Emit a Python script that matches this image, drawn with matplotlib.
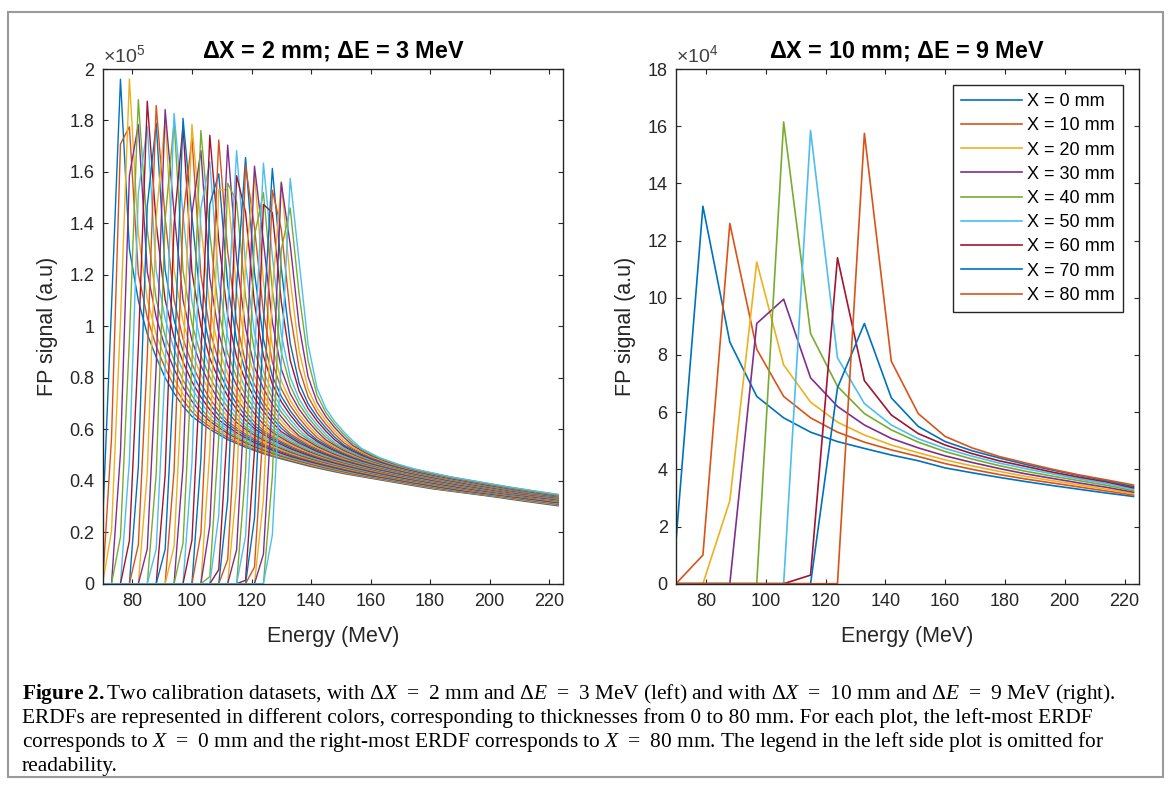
import matplotlib
matplotlib.use('Agg')
import matplotlib.pyplot as plt
import numpy as np
from matplotlib.patches import Rectangle

plt.rcParams['font.family'] = ['Liberation Sans', 'DejaVu Sans']
plt.rcParams['mathtext.fontset'] = 'custom'
plt.rcParams['mathtext.rm'] = 'Liberation Serif'
plt.rcParams['mathtext.it'] = 'Liberation Serif:italic'
plt.rcParams['mathtext.bf'] = 'Liberation Serif:bold'

W, H = 1171, 787
MATLAB_COLORS = ['#0072BD', '#D95319', '#EDB120', '#7E2F8E',
                 '#77AC30', '#4DBEEE', '#A2142F']

# ---------------- right panel: dX = 10 mm, dE = 9 MeV (signal x 1e4)
energy_9mev = [70, 79, 88, 97, 106, 115, 124, 133, 142, 151, 160, 169,
               178, 187, 196, 205, 214, 223]
fp_x00 = [1.5, 13.2, 8.45, 6.55, 5.8, 5.3, 4.97, 4.73, 4.5, 4.3, 4.05, 3.88,
          3.72, 3.57, 3.43, 3.3, 3.17, 3.05]
fp_x10 = [0, 1.0, 12.6, 8.2, 6.55, 5.8, 5.3, 4.95, 4.68, 4.45, 4.2, 4.0,
          3.82, 3.66, 3.52, 3.38, 3.24, 3.1]
fp_x20 = [0, 0, 2.9, 11.25, 7.65, 6.35, 5.65, 5.2, 4.85, 4.58, 4.33, 4.12,
          3.93, 3.75, 3.6, 3.45, 3.3, 3.15]
fp_x30 = [0, 0, 0, 9.1, 9.95, 7.2, 6.2, 5.55, 5.08, 4.75, 4.47, 4.24,
          4.03, 3.84, 3.68, 3.52, 3.37, 3.2]
fp_x40 = [0, 0, 0, 0, 16.15, 8.75, 6.9, 5.95, 5.38, 4.95, 4.62, 4.36,
          4.13, 3.93, 3.76, 3.6, 3.44, 3.25]
fp_x50 = [0, 0, 0, 0, 0, 15.85, 7.9, 6.3, 5.55, 5.07, 4.73, 4.46,
          4.22, 4.02, 3.84, 3.66, 3.5, 3.3]
fp_x60 = [0, 0, 0, 0, 0, 0.3, 11.4, 7.1, 5.9, 5.25, 4.85, 4.55,
          4.3, 4.1, 3.9, 3.72, 3.56, 3.35]
fp_x70 = [0, 0, 0, 0, 0, 0, 6.85, 9.1, 6.5, 5.5, 4.97, 4.65,
          4.4, 4.17, 3.97, 3.78, 3.6, 3.4]
fp_x80 = [0, 0, 0, 0, 0, 0, 0, 15.75, 7.78, 5.95, 5.15, 4.75,
          4.45, 4.22, 4.0, 3.8, 3.63, 3.45]
right_labels = ['X = 0 mm', 'X = 10 mm', 'X = 20 mm', 'X = 30 mm', 'X = 40 mm',
                'X = 50 mm', 'X = 60 mm', 'X = 70 mm', 'X = 80 mm']

# ---------------- left panel: dX = 2 mm, dE = 3 MeV (signal x 1e5)
energy_3mev = list(range(70, 224, 3))
# peak position / height of each ERDF, X = 0, 2, ..., 80 mm
left_peak_energy = [76.0, 77.6, 79.2, 80.8, 82.3, 83.9, 85.4, 87.0, 88.5, 90.1,
                    91.6, 93.1, 94.6, 96.1, 97.6, 99.0, 100.5, 101.9, 103.4, 104.8,
                    106.3, 107.7, 109.1, 110.5, 111.9, 113.3, 114.7, 116.1, 117.4,
                    118.8, 120.1, 121.5, 122.8, 124.1, 125.4, 126.7, 128.0, 129.3,
                    130.6, 131.8, 133.0]
left_peak_signal = [1.96, 1.97, 1.975, 1.93, 1.90, 1.90, 1.90, 1.89, 1.89, 1.885,
                    1.88, 1.875, 1.865, 1.855, 1.845, 1.83, 1.815, 1.80, 1.785,
                    1.775, 1.76, 1.745, 1.73, 1.72, 1.71, 1.705, 1.70, 1.695, 1.69,
                    1.675, 1.66, 1.65, 1.645, 1.64, 1.635, 1.63, 1.615, 1.60, 1.59,
                    1.58, 1.575]
# shape around the peak (fraction of peak) vs offset from peak, MeV
rise_offset = [-7.5, -6.0, -4.5, -3.0, -1.5, -0.75]
rise_fraction = [0.0, 0.12, 0.3, 0.55, 0.89, 0.975]
top_offset = [0.75, 1.5]
top_fraction = [0.975, 0.89]
# falling edge vs offset from peak: first (X = 0) and last (X = 80) ERDF
fall_offset = [3, 6, 9, 12, 15, 18, 21, 24, 30, 36, 42, 48, 54, 64, 74, 84,
               94, 104, 114, 124, 136, 150]
fall_first = [1.3, 1.1, 0.97, 0.88, 0.80, 0.74, 0.69, 0.65, 0.60, 0.56, 0.53,
              0.505, 0.485, 0.455, 0.43, 0.41, 0.39, 0.37, 0.355, 0.34, 0.32, 0.298]
fall_last = [1.25, 0.93, 0.76, 0.68, 0.63, 0.59, 0.555, 0.525, 0.49, 0.465, 0.445,
             0.43, 0.415, 0.395, 0.375, 0.357, 0.34, 0.33, 0.32, 0.31, 0.30, 0.29]

caption_lines = [
    r"$\mathbf{Figure\ 2.}$Two calibration datasets, with $\Delta X\;\,=\;\,2$ mm and "
    r"$\Delta E\;\,=\;\,3$ MeV (left) and with $\Delta X\;\,=\;\,10$ mm and "
    r"$\Delta E\;\,=\;\,9$ MeV (right).",
    "ERDFs are represented in different colors, corresponding to thicknesses "
    "from 0 to 80 mm. For each plot, the left-most ERDF",
    r"corresponds to $X\;\,=\;\,0$ mm and the right-most ERDF corresponds to "
    r"$X\;\,=\;\,80$ mm. The legend in the left side plot is omitted for",
    "readability.",
]


def erdf_left(k):
    n = len(left_peak_energy) - 1
    w = k / n
    h = left_peak_signal[k]
    d = np.array(energy_3mev) - left_peak_energy[k]
    xp = np.concatenate([rise_offset, [0.0], top_offset, fall_offset])
    fp = np.concatenate([h * np.array(rise_fraction), [h], h * np.array(top_fraction),
                         (1 - w) * np.array(fall_first) + w * np.array(fall_last)])
    return np.interp(d, xp, fp, left=0.0)


def style_axes(ax, yticks, ylim, exponent, title, ylabel_x):
    ax.set_xlim(70, 224.7)
    ax.set_ylim(*ylim)
    ax.set_xticks(range(80, 221, 20))
    ax.set_yticks(yticks)
    ax.set_yticklabels([f'{t:g}' for t in yticks])
    ax.tick_params(direction='in', length=3.4, width=0.8, top=True, right=True,
                   labelsize=13, colors='#262626')
    ax.tick_params(axis='x', pad=7)
    ax.tick_params(axis='y', pad=6)
    for sp in ax.spines.values():
        sp.set_color('#262626')
        sp.set_linewidth(1.0)
    ax.text(0.5, 1.022, title, transform=ax.transAxes, ha='center', va='baseline',
            fontsize=16.8, fontweight='bold', color='black')
    ax.text(0.0, 1.013, r'$\mathregular{\times10^{%d}}$' % exponent,
            transform=ax.transAxes, ha='left', va='baseline', fontsize=14,
            color='#404040')
    ax.text(0.5, -0.103, 'Energy (MeV)', transform=ax.transAxes, ha='center',
            va='center', fontsize=15.5, color='#262626')
    ax.text(ylabel_x, 0.5, 'FP signal (a.u)', transform=ax.transAxes, ha='center',
            va='center', rotation=90, fontsize=15.5, color='#262626')


fig = plt.figure(figsize=(W / 100, H / 100), dpi=100)

ax1 = fig.add_axes([102.6 / W, 1 - 583.7 / H, 460.7 / W, 514.7 / H])
for k in range(len(left_peak_energy)):
    ax1.plot(energy_3mev, erdf_left(k), color=MATLAB_COLORS[k % 7], lw=1.0)
style_axes(ax1, np.round(np.arange(0, 2.01, 0.2), 1), (0, 2), 5,
           r'$\mathregular{\Delta}$X = 2 mm; $\mathregular{\Delta}$E = 3 MeV', -0.12)

ax2 = fig.add_axes([676.0 / W, 1 - 583.7 / H, 462.6 / W, 514.7 / H])
right_series = [fp_x00, fp_x10, fp_x20, fp_x30, fp_x40, fp_x50, fp_x60, fp_x70, fp_x80]
for i, (vals, lab) in enumerate(zip(right_series, right_labels)):
    ax2.plot(energy_9mev, vals, color=MATLAB_COLORS[i % 7], lw=1.2, label=lab)
style_axes(ax2, list(range(0, 19, 2)), (0, 18), 4,
           r'$\mathregular{\Delta}$X = 10 mm; $\mathregular{\Delta}$E = 9 MeV', -0.109)
leg = ax2.legend(loc='upper right', bbox_to_anchor=(0.967, 0.969), fontsize=13,
                 handlelength=3.4, handletextpad=0.3, labelspacing=0.4,
                 borderpad=0.45, borderaxespad=0, fancybox=False,
                 edgecolor='#262626', framealpha=1)
leg.get_frame().set_linewidth(1.0)

# outer frame of the figure
fig.patches.append(Rectangle((8 / W, 1 - 777 / H), 1155 / W, 765 / H,
                             transform=fig.transFigure, fill=False,
                             edgecolor='#9a9a9a', lw=1.5))

# caption
cap_fs = 15
baselines = [699, 723, 747, 771]
texts = []
for line, yb in zip(caption_lines, baselines):
    texts.append(fig.text(22 / W, 1 - yb / H, line, ha='left', va='baseline',
                          fontsize=cap_fs, family='Liberation Serif', color='black'))
fig.canvas.draw()
width2 = texts[1].get_window_extent().width
for t in texts:
    t.set_fontsize(cap_fs * 1071 / width2)

fig.savefig('out.png', dpi=100)
